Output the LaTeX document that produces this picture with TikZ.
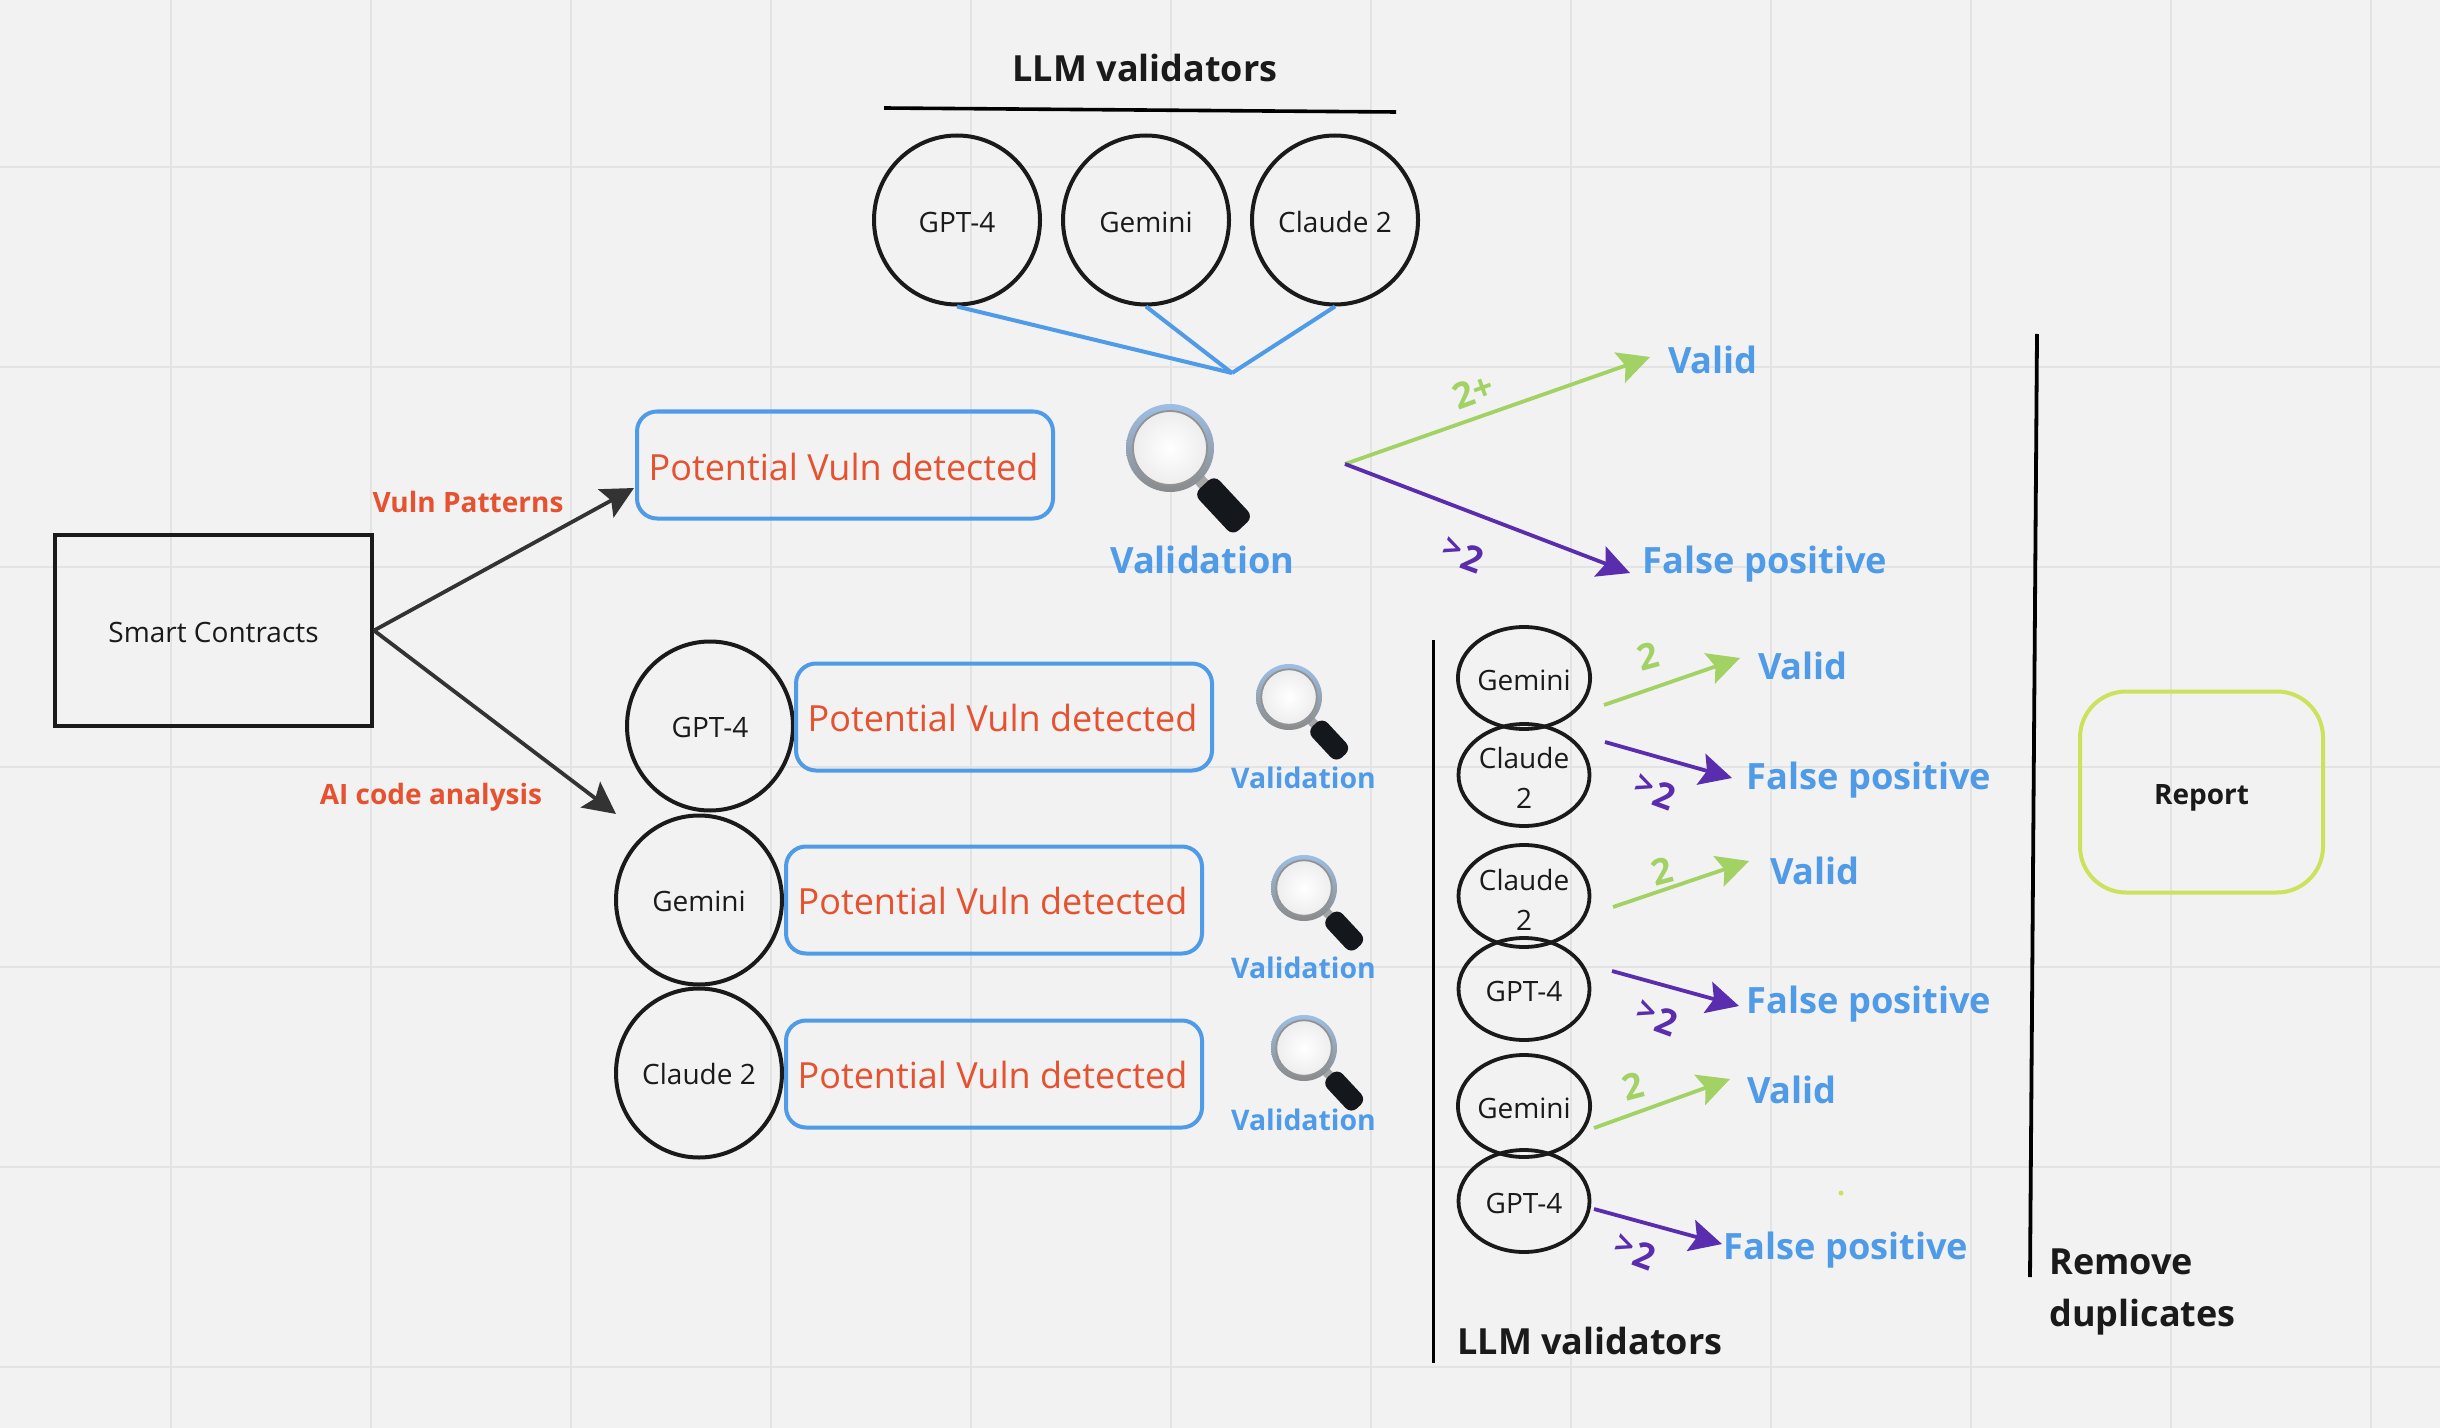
\documentclass[tikz,border=0pt]{standalone}
\usepackage{fontspec}
\setmainfont{Open Sans}
\usetikzlibrary{arrows.meta,shapes.geometric}
\definecolor{bgc}{HTML}{F2F2F2}
\definecolor{gridc}{HTML}{E3E3E3}
\definecolor{inkc}{HTML}{1A1A1A}
\definecolor{arrowc}{HTML}{333333}
\definecolor{bluec}{HTML}{4F9BE8}
\definecolor{redc}{HTML}{E6512F}
\definecolor{greenc}{HTML}{A2D264}
\definecolor{purplec}{HTML}{5A2DAF}
\definecolor{yellowc}{HTML}{CDE25C}
\definecolor{ringtop}{HTML}{9DBFE6}
\definecolor{ringmid}{HTML}{BDBDBD}
\definecolor{ringbot}{HTML}{8A8A8A}
\definecolor{handlec}{HTML}{14171C}
\definecolor{handlelt}{HTML}{50565E}
\newcommand{\dropby}[2]{\raisebox{-#1}[\height][\depth]{#2}}
\newcommand{\vulntext}{\dropby{.5pt}{\hspace*{-1.5pt}Potential Vuln detected}}
\newcommand{\overtwo}{{\fontsize{16.5}{16}\selectfont\raisebox{2.5pt}{>}}\hspace{1pt}2}
\newcommand{\clauderows}[1]{\raisebox{-#1}[0pt][0pt]{\begin{tabular}{@{}c@{}}Claude\\2\end{tabular}}}
\tikzset{
  x=0.5pt,y=-0.5pt,
  bigcirc/.style={ellipse,draw=inkc,line width=2pt,minimum width=83pt,minimum height=84.5pt,inner sep=0pt,font=\fontsize{14}{16}\selectfont,text=inkc},
  smallcirc/.style={ellipse,draw=inkc,line width=1.9pt,minimum width=65.5pt,minimum height=51pt,inner sep=0pt,font=\fontsize{14}{20}\selectfont,text=inkc,align=center},
  vulnbox/.style={draw=bluec,line width=2pt,rounded corners=10pt,minimum width=208pt,minimum height=53.5pt,inner sep=0pt,text=redc,font=\fontsize{18}{20}\selectfont},
  bluebig/.style={text=bluec,font=\fontsize{18.1}{20}\selectfont\bfseries,inner sep=0pt},
  bluesmall/.style={text=bluec,font=\fontsize{14.2}{16}\selectfont\bfseries,inner sep=0pt},
  redlbl/.style={text=redc,font=\fontsize{14}{16}\selectfont\bfseries,inner sep=0pt},
  headlbl/.style={text=inkc,font=\fontsize{18}{26}\selectfont\bfseries,inner sep=0pt,align=left},
  arrowblack/.style={draw=arrowc,line width=1.9pt,-{Stealth[length=16pt,width=16pt,inset=3pt]}},
  arrowgreen/.style={draw=greenc,line width=1.9pt,-{Stealth[length=16pt,width=16pt,inset=3pt]}},
  arrowpurple/.style={draw=purplec,line width=1.9pt,-{Stealth[length=16pt,width=16pt,inset=3pt]}},
  numgreen/.style={text=greenc,font=\fontsize{18}{18}\selectfont\bfseries,inner sep=0pt},
  numpurple/.style={text=purplec,font=\fontsize{18}{18}\selectfont\bfseries,inner sep=0pt},
  magnifier/.pic={
    \fill[rotate=-47,gray!70] (40,-6) rectangle (54,6);
    \shade[rotate=-47,rounded corners=4pt,top color=handlec,middle color=handlelt,bottom color=handlec] (50,-14) rectangle (107,14);
    \shade[top color=ringtop,middle color=ringmid,bottom color=ringbot] (0,0) circle (44);
    \shade[inner color=white,outer color=gray!14] (0,0) circle (37);
    \draw[line width=.9pt,gray!85] (0,0) circle (37);
  }
}
\begin{document}
\begin{tikzpicture}
\useasboundingbox (0,0) rectangle (2440,1428);
\fill[bgc] (0,0) rectangle (2440,1428);
\foreach \gx in {171,371,...,2371} \draw[gridc,line width=1.2pt] (\gx,0) -- (\gx,1428);
\foreach \gy in {167,367,...,1367} \draw[gridc,line width=1.2pt] (0,\gy) -- (2440,\gy);

% top validators
\node[headlbl] (topTitle) at (1145,68) {LLM validators};
\coordinate (barA) at (884,108);
\coordinate (barB) at (1396,112);
\draw[black,line width=1.8pt] (barA) -- (barB);
\node[bigcirc] (tGpt) at (957,220) {\dropby{1.2pt}{GPT-4}};
\node[bigcirc] (tGem) at (1146,220) {\dropby{1.2pt}{Gemini}};
\node[bigcirc] (tCla) at (1335,220) {\dropby{1.2pt}{Claude 2}};
\coordinate (join) at (1232,373);
\draw[bluec,line width=2pt] (tGpt.south) -- (join);
\draw[bluec,line width=2pt] (tGem.south) -- (join);
\draw[bluec,line width=2pt] (tCla.south) -- (join);

% source
\node[draw=inkc,line width=2pt,minimum width=158.5pt,minimum height=95.5pt,inner sep=0pt,text=inkc,font=\fontsize{14}{16}\selectfont] (sc) at (213.5,630.5) {\dropby{1pt}{Smart Contracts}};
\node[vulnbox] (boxA) at (845,465) {\dropby{.4pt}{\vulntext}};
\node[redlbl] (lblVP) at (468,502) {Vuln Patterns};
\node[redlbl] (lblAI) at (431,797) {AI code analysis};
\coordinate (arrA) at (634,488);
\coordinate (arrB) at (616,814);
\draw[arrowblack] (sc.east) -- (arrA);
\draw[arrowblack] (sc.east) -- (arrB);

% analysis rows
\node[bigcirc] (rGpt) at (710,726) {\dropby{.5pt}{GPT-4}};
\node[bigcirc] (rGem) at (699,900) {\dropby{.5pt}{Gemini}};
\node[bigcirc] (rCla) at (699,1073) {\dropby{.5pt}{Claude 2}};
\node[vulnbox] (boxB) at (1004,717) {\vulntext};
\node[vulnbox] (boxC) at (994,900) {\vulntext};
\node[vulnbox] (boxD) at (994,1074) {\vulntext};

% magnifiers
\pic at (1170,448) {magnifier};
\pic[scale=.75] at (1289,697) {magnifier};
\pic[scale=.75] at (1304,888) {magnifier};
\pic[scale=.75] at (1304,1048) {magnifier};
\node[bluebig] (valA) at (1202.5,560) {Validation};
\node[bluesmall] (valB) at (1303.5,778) {Validation};
\node[bluesmall] (valC) at (1303.5,968) {Validation};
\node[bluesmall] (valD) at (1303.5,1120) {Validation};

% first verdict
\coordinate (fork) at (1345,464);
\node[bluebig] (vA) at (1713,360) {Valid};
\node[bluebig] (fA) at (1765,564) {False positive};
\coordinate (vAend) at (1650,357);
\coordinate (fAend) at (1630,573);
\draw[arrowgreen] (fork) -- (vAend);
\draw[arrowpurple] (fork) -- (fAend);
\node[numgreen,rotate=20] (nA) at (1473,391) {2+};
\node[numpurple,rotate=-20] (mA) at (1463,555) {\overtwo};

% side validators
\coordinate (sideA) at (1433.5,640);
\coordinate (sideB) at (1433.5,1363);
\draw[black,line width=1.8pt] (sideA) -- (sideB);
\node[smallcirc] (c1) at (1524,678) {\dropby{1.2pt}{Gemini}};
\node[smallcirc] (c2) at (1524,775) {\clauderows{6.3pt}};
\node[smallcirc] (c3) at (1524,896) {\clauderows{6.9pt}};
\node[smallcirc] (c4) at (1524,989) {\dropby{1.2pt}{GPT-4}};
\node[smallcirc] (c5) at (1524,1106) {\dropby{1.2pt}{Gemini}};
\node[smallcirc] (c6) at (1524,1201) {\dropby{1.2pt}{GPT-4}};
\node[headlbl] (botTitle) at (1457,1341) [anchor=west] {LLM validators};

\coordinate (a1s) at (1604,705); \coordinate (a1e) at (1740,658);
\coordinate (a2s) at (1605,742); \coordinate (a2e) at (1732,778);
\coordinate (a3s) at (1613,907); \coordinate (a3e) at (1749,861);
\coordinate (a4s) at (1612,971); \coordinate (a4e) at (1739,1006);
\coordinate (a5s) at (1594,1128); \coordinate (a5e) at (1730,1079);
\coordinate (a6s) at (1594,1209); \coordinate (a6e) at (1722,1244);
\draw[arrowgreen] (a1s) -- (a1e);
\draw[arrowpurple] (a2s) -- (a2e);
\draw[arrowgreen] (a3s) -- (a3e);
\draw[arrowpurple] (a4s) -- (a4e);
\draw[arrowgreen] (a5s) -- (a5e);
\draw[arrowpurple] (a6s) -- (a6e);
\node[bluebig] (v1) at (1803,666) {Valid};
\node[bluebig] (f1) at (1869,780) {False positive};
\node[bluebig] (v2) at (1815,871) {Valid};
\node[bluebig] (f2) at (1869,1004) {False positive};
\node[bluebig] (v3) at (1792,1090) {Valid};
\node[bluebig] (f3) at (1846,1250) {False positive};
\node[numgreen,rotate=15] (n1) at (1648,656) {2};
\node[numgreen,rotate=15] (n2) at (1662,871) {2};
\node[numgreen,rotate=15] (n3) at (1633,1086) {2};
\node[numpurple,rotate=-20] (m1) at (1655,792) {\overtwo};
\node[numpurple,rotate=-20] (m2) at (1657,1018) {\overtwo};
\node[numpurple,rotate=-20] (m3) at (1635,1252) {\overtwo};

% right side
\coordinate (rightA) at (2037,334);
\coordinate (rightB) at (2030,1277);
\draw[black,line width=1.9pt] (rightA) -- (rightB);
\node[draw=yellowc,line width=2pt,rounded corners=23pt,minimum width=121.5pt,minimum height=100.5pt,inner sep=0pt,text=inkc,font=\fontsize{14}{16}\selectfont\bfseries] (report) at (2201.5,792) {\dropby{3pt}{Report}};
\node[headlbl,anchor=north west] (rem) at (2049,1248) {Remove\\duplicates};
\fill[yellowc] (1841,1193) circle (2.5);
\end{tikzpicture}
\end{document}
